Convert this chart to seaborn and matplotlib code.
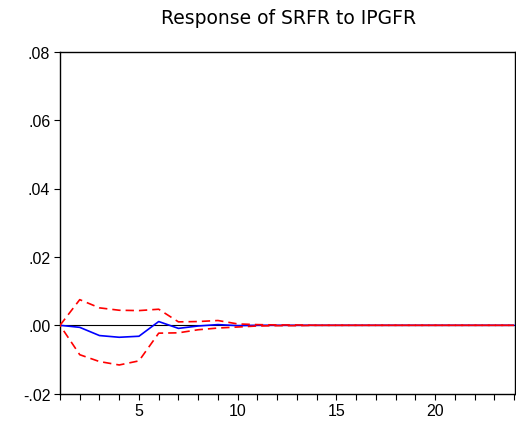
import numpy as np
import pandas as pd
import matplotlib
matplotlib.use("Agg")
import matplotlib.pyplot as plt
import seaborn as sns

periods = list(range(1, 25))
response = [0.0, -0.0006, -0.0030, -0.0035, -0.0032, 0.0011, -0.0009, -0.0002, 0.0002, -0.0001,
            0.0, 0.0, 0.0, 0.0, 0.0, 0.0, 0.0, 0.0, 0.0, 0.0, 0.0, 0.0, 0.0, 0.0]
upper = [0.0, 0.0075, 0.0051, 0.0044, 0.0043, 0.0047, 0.0010, 0.0011, 0.0014, 0.0004,
         0.0002, 0.0001, 0.0001, 0.0, 0.0, 0.0, 0.0, 0.0, 0.0, 0.0, 0.0, 0.0, 0.0, 0.0]
lower = [0.0, -0.0086, -0.0106, -0.0116, -0.0104, -0.0023, -0.0022, -0.0013, -0.0008, -0.0005,
         -0.0002, -0.0001, -0.0001, 0.0, 0.0, 0.0, 0.0, 0.0, 0.0, 0.0, 0.0, 0.0, 0.0, 0.0]
ytick_vals = [-0.02, 0.0, 0.02, 0.04, 0.06, 0.08]
ytick_labels = ["-.02", ".00", ".02", ".04", ".06", ".08"]
xtick_vals = [5, 10, 15, 20]

df = pd.DataFrame({"period": periods, "response": response, "upper": upper, "lower": lower})

sns.set_style("white")
plt.rcParams["font.family"] = ["Liberation Sans", "DejaVu Sans"]
plt.rcParams["text.color"] = "black"

fig = plt.figure(figsize=(5.16, 4.27), dpi=100)
ax = fig.add_axes([60 / 516, (427 - 394.7) / 427, (515 - 60) / 516, (394.7 - 52.7) / 427])

ax.axhline(0, color="black", lw=0.8, zorder=1)
sns.lineplot(data=df, x="period", y="response", ax=ax, color="#0000ff", lw=1.2, zorder=3)
sns.lineplot(data=df, x="period", y="upper", ax=ax, color="#ff0000", lw=1.2,
             linestyle=(0, (5, 3)), zorder=4)
sns.lineplot(data=df, x="period", y="lower", ax=ax, color="#ff0000", lw=1.2,
             linestyle=(4, (5, 3)), zorder=4)

ax.set_xlim(1, 24.05)
ax.set_ylim(-0.02, 0.08)
ax.set_yticks(ytick_vals)
ax.set_yticklabels(ytick_labels)
ax.set_xticks(xtick_vals)
ax.set_xticks(periods, minor=True)
ax.set_xlabel("")
ax.set_ylabel("")
ax.tick_params(axis="both", which="both", direction="out", length=4, width=0.8,
               labelsize=11.5, colors="black", pad=3)
ax.tick_params(axis="x", which="both", bottom=True, top=False)
ax.tick_params(axis="y", left=True, right=False)
for s in ax.spines.values():
    s.set_visible(True)
    s.set_color("black")
    s.set_linewidth(1.0)

fig.text(289 / 516, 1 - 19 / 427, "Response of SRFR to IPGFR", ha="center", va="center",
         fontsize=13.5, color="black", family=["DejaVu Sans"])

fig.savefig("out.png", dpi=100)
